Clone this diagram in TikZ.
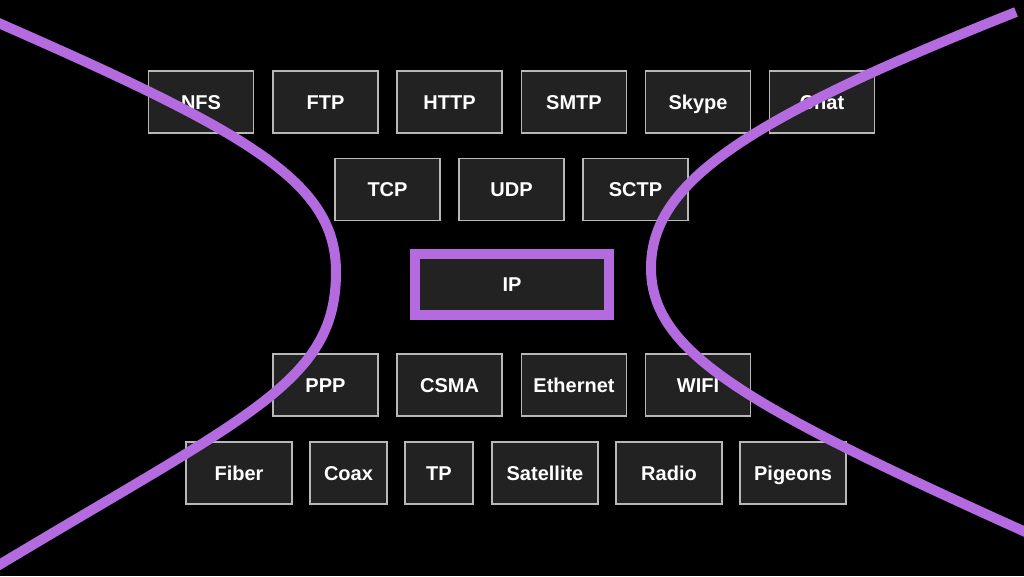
\documentclass[tikz,border=0pt]{standalone}
\usepackage{fontspec}
\setmainfont{Liberation Sans}
\usepackage{tikz}

\begin{document}
\begin{tikzpicture}[x=1pt, y=-1pt, font=\bfseries\fontsize{20}{24}\selectfont]
  \definecolor{p}{HTML}{B36BDF}
  \definecolor{f}{HTML}{222222}
  \definecolor{g}{HTML}{B8B8B8}
  \tikzset{
      proto/.style={draw=g, fill=f, text=white, line width=1.2pt, minimum width=105pt, minimum height=62pt, inner sep=0pt, text height=14.3pt, text depth=0pt},
      hull/.style={p, line width=10pt, line cap=butt}
  }
  \fill [black] (0, 0) rectangle (1024, 576);
  \useasboundingbox (0, 0) rectangle (1024, 576);

  \def\apps{nfs/201/NFS, ftp/325.5/FTP, http/449.5/HTTP, smtp/574/SMTP, skype/698/Skype, chat/822/Chat}
  \def\transport{tcp/387.5/TCP, udp/511.5/UDP, sctp/635.5/SCTP}
  \def\link{ppp/325.5/PPP, csma/449.5/CSMA, eth/574/Ethernet, wifi/698/WIFI}
  \def\phys{fiber/239/106/Fiber, coax/348.5/77/Coax, tp/439/68/TP, sat/545/106/Satellite, radio/669/106/Radio, pigeons/793/106/Pigeons}

  \foreach \n/\x/\t in \apps { \node (\n) at (\x, 102) [proto] {\t}; }
  \foreach \n/\x/\t in \transport { \node (\n) at (\x, 189.5) [proto] {\t}; }
  \node (ip) at (512, 284.5) [proto, draw=p, line width=10pt, minimum width=194pt, minimum height=61pt] {IP};
  \foreach \n/\x/\t in \link { \node (\n) at (\x, 385) [proto] {\t}; }
  \foreach \n/\x/\w/\t in \phys { \node (\n) at (\x, 473) [proto, minimum width=\w pt] {\t}; }

  % left and right hulls
  \draw [hull] (-6, 21) .. controls (250, 133) and (336, 182) .. (336, 272)
                        .. controls (336, 382) and (250, 414) .. (-6, 568);
  \draw [hull] (1016, 12) .. controls (744, 120) and (651, 183) .. (651, 268)
                          .. controls (651, 353) and (748, 407) .. (1030, 534);
\end{tikzpicture}
\end{document}
